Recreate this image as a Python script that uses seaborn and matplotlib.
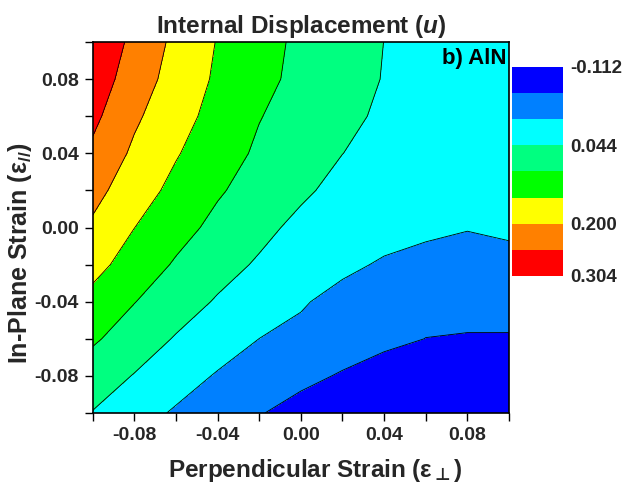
import numpy as np
import matplotlib
matplotlib.use("Agg")
import matplotlib.pyplot as plt
import seaborn as sns

# ---- data ----
x_strain = [-0.10, -0.08, -0.06, -0.04, -0.02, 0.00, 0.02, 0.04, 0.06, 0.08, 0.10]
y_strain = [0.10, 0.08, 0.06, 0.04, 0.02, 0.00, -0.02, -0.04, -0.06, -0.08, -0.10]

u_y_p010 = [0.295, 0.239, 0.188, 0.1455, 0.1136, 0.0864, 0.0649, 0.0437, 0.036, 0.030, 0.026]
u_y_p008 = [0.281, 0.2269, 0.1793, 0.1405, 0.1091, 0.0838, 0.0628, 0.042, 0.034, 0.028, 0.024]
u_y_p006 = [0.264, 0.2084, 0.167, 0.131, 0.0979, 0.0766, 0.0561, 0.0358, 0.030, 0.025, 0.022]
u_y_p004 = [0.242, 0.1909, 0.1518, 0.1179, 0.0884, 0.0664, 0.0444, 0.028, 0.022, 0.018, 0.018]
u_y_p002 = [0.216, 0.1722, 0.1341, 0.1013, 0.0761, 0.0525, 0.0289, 0.020, 0.014, 0.008, 0.010]
u_y_000 = [0.192, 0.1485, 0.1136, 0.0834, 0.0575, 0.0316, 0.021, 0.0121, 0.004, -0.005, 0.002]
u_y_m002 = [0.165, 0.125, 0.0908, 0.0627, 0.0381, 0.0207, 0.0033, -0.014, -0.027, -0.035, -0.026]
u_y_m004 = [0.132, 0.0974, 0.0674, 0.0393, 0.0183, -0.0028, -0.025, -0.031, -0.045, -0.050, -0.050]
u_y_m006 = [0.1029, 0.071, 0.0403, 0.0161, -0.0082, -0.0212, -0.0344, -0.0474, -0.0605, -0.062, -0.062]
u_y_m008 = [0.0699, 0.0417, 0.0136, -0.0121, -0.0295, -0.047, -0.0645, -0.0834, -0.090, -0.095, -0.095]
u_y_m010 = [0.042, 0.012, -0.0137, -0.0354, -0.057, -0.0787, -0.090, -0.100, -0.105, -0.108, -0.108]

levels = [-0.112, -0.060, -0.008, 0.044, 0.096, 0.148, 0.200, 0.252, 0.304]
cbar_labels = [-0.112, 0.044, 0.200, 0.304]
band_colors = ["#0000FF", "#0080FF", "#00FFFF", "#00FF80",
               "#00FF00", "#FFFF00", "#FF8000", "#FF0000"]
major_ticks = [-0.08, -0.04, 0.0, 0.04, 0.08]
minor_ticks = [-0.10, -0.06, -0.02, 0.02, 0.06, 0.10]

title = "Internal Displacement ($\\mathit{u}$)"
xlabel = "Perpendicular Strain (ε$_{\\mathsf{\\bot}}$)"
ylabel = "In-Plane Strain (ε$_{//}$)"
panel = "b) AlN"

# ---- style ----
sns.set_theme(style="ticks")
plt.rcParams["font.family"] = ["Liberation Sans", "DejaVu Sans"]
plt.rcParams["font.weight"] = "bold"
plt.rcParams["axes.unicode_minus"] = False
plt.rcParams["mathtext.fontset"] = "custom"
plt.rcParams["mathtext.rm"] = "Liberation Sans:bold"
plt.rcParams["mathtext.bf"] = "Liberation Sans:bold"
plt.rcParams["mathtext.it"] = "Liberation Sans:italic:bold"
plt.rcParams["mathtext.sf"] = "DejaVu Sans:bold"
plt.rcParams["contour.negative_linestyle"] = "solid"

Z = np.array([u_y_p010, u_y_p008, u_y_p006, u_y_p004, u_y_p002, u_y_000,
              u_y_m002, u_y_m004, u_y_m006, u_y_m008, u_y_m010])
X, Y = np.meshgrid(x_strain, y_strain)

fig = plt.figure(figsize=(6.22, 4.84), dpi=100)
ax = fig.add_axes([0.149, 0.1467, 0.6693, 0.7665])

palette = sns.color_palette(band_colors)
cf = ax.contourf(X, Y, Z, levels=levels, colors=palette)
ax.contour(X, Y, Z, levels=levels[1:-1], colors="black", linewidths=0.6,
           linestyles="solid")

ax.set_xlim(-0.1, 0.1)
ax.set_ylim(-0.1, 0.1)
ax.set_xticks(major_ticks)
ax.set_yticks(major_ticks)
ax.set_xticks(minor_ticks, minor=True)
ax.set_yticks(minor_ticks, minor=True)
ax.set_xticklabels([f"{v:.2f}" for v in major_ticks])
ax.set_yticklabels([f"{v:.2f}" for v in major_ticks])
ax.tick_params(which="both", direction="out", length=6, width=1.0,
               color="black", top=False, right=False)
ax.tick_params(which="major", labelsize=14, pad=4)
for lab in ax.get_xticklabels() + ax.get_yticklabels():
    lab.set_fontweight("bold")
for sp in ax.spines.values():
    sp.set_visible(True)
    sp.set_color("black")
    sp.set_linewidth(1.2)

ax.set_title(title, fontsize=17.5, fontweight="bold", pad=6.5)
ax.set_xlabel(xlabel, fontsize=17.5, fontweight="bold")
ax.set_ylabel(ylabel, fontsize=18, fontweight="bold")
ax.xaxis.set_label_coords(0.535, -0.118)
ax.yaxis.set_label_coords(-0.14, 0.43)
ax.text(0.995, 0.985, panel, transform=ax.transAxes, ha="right", va="top",
        fontsize=16, fontweight="bold", color="black")

# colorbar (blue on top)
cax = fig.add_axes([0.823, 0.4298, 0.082, 0.4318])
cb = fig.colorbar(cf, cax=cax, ticks=cbar_labels)
cb.outline.set_visible(False)
cax.invert_yaxis()
cb.set_ticklabels([f"{v:.3f}" for v in cbar_labels])
cax.tick_params(length=0, labelsize=13.5, pad=5)
for lab in cax.get_yticklabels():
    lab.set_fontweight("bold")

fig.savefig("out.png", dpi=100)
